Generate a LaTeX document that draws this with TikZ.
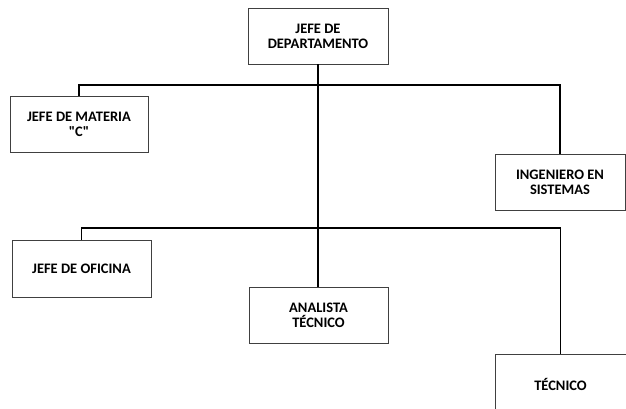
\documentclass[tikz,border=0pt]{standalone}
\usepackage{fontspec}
\setmainfont{Carlito}[Ligatures=TeXOff]
\tikzset{
  puesto/.style={draw=black!75, line width=0.8pt, align=center, inner sep=2pt,
    font=\bfseries\fontsize{14.5}{15}\selectfont},
  enlace/.style={line width=1.6pt}
}
\begin{document}
\begin{tikzpicture}[x=1pt,y=-1pt]
  \useasboundingbox (0,0) rectangle (626,409);
  % puestos
  \node[puesto, minimum width=140pt, minimum height=56pt] (jefe) at (318,36) {JEFE DE\\DEPARTAMENTO};
  \node[puesto, minimum width=138pt, minimum height=56pt] (materia) at (79,124.5) {JEFE DE MATERIA\\"C"};
  \node[puesto, minimum width=130pt, minimum height=56pt] (ingeniero) at (560,182) {INGENIERO EN\\SISTEMAS};
  \node[puesto, minimum width=139pt, minimum height=57pt] (oficina) at (81.5,268.5) {JEFE DE OFICINA};
  \node[puesto, minimum width=139pt, minimum height=56pt] (analista) at (318.5,315.5) {ANALISTA\\TÉCNICO};
  \node[puesto, minimum width=131pt, minimum height=60pt] (tecnico) at (560.5,384) {TÉCNICO};
  % barras
  \coordinate (barra1) at (318,85);
  \coordinate (barra2) at (318,228);
  \draw[enlace] (jefe.south) -- (jefe.south |- analista.north);
  \draw[enlace] (materia.north) |- (barra1) -| (ingeniero.north);
  \draw[enlace] (oficina.north) |- (barra2) -| (tecnico.north);
\end{tikzpicture}
\end{document}
